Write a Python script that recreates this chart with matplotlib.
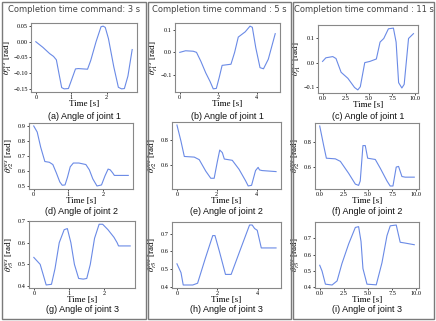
import matplotlib
matplotlib.use("Agg")
import matplotlib.pyplot as plt
from matplotlib.patches import Rectangle

# ---- data (time [s], angle [rad]) ----
col_titles = ["Completion time command: 3 s",
              "Completion time command : 5 s",
              "Completion time command : 11 s"]
captions = ["(a) Angle of joint 1", "(b) Angle of joint 1", "(c) Angle of joint 1",
            "(d) Angle of joint 2", "(e) Angle of joint 2", "(f) Angle of joint 2",
            "(g) Angle of joint 3", "(h) Angle of joint 3", "(i) Angle of joint 3"]

a_t = [0, 0.2, 0.39, 0.5, 0.58, 0.65, 0.73, 0.8, 0.92, 1.0, 1.12, 1.2, 1.46, 1.55,
       1.7, 1.84, 1.9, 1.96, 2.05, 2.2, 2.33, 2.42, 2.5, 2.6, 2.72]
a_v = [0, -0.018, -0.038, -0.047, -0.058, -0.1, -0.147, -0.151, -0.15, -0.125, -0.087,
       -0.086, -0.088, -0.06, 0.0, 0.048, 0.05, 0.046, 0.01, -0.08, -0.146, -0.151,
       -0.15, -0.11, -0.025]
d_t = [0, 0.1, 0.2, 0.32, 0.45, 0.55, 0.65, 0.75, 0.82, 0.9, 0.97, 1.05, 1.14, 1.3,
       1.5, 1.6, 1.7, 1.82, 1.95, 2.05, 2.14, 2.2, 2.27, 2.32, 2.5, 2.72]
d_v = [0.9, 0.86, 0.76, 0.665, 0.66, 0.645, 0.59, 0.53, 0.508, 0.51, 0.56, 0.63, 0.655,
       0.655, 0.645, 0.61, 0.55, 0.503, 0.51, 0.57, 0.615, 0.61, 0.59, 0.573, 0.573, 0.573]
g_t = [0, 0.18, 0.27, 0.35, 0.5, 0.6, 0.72, 0.86, 0.95, 1.05, 1.15, 1.27, 1.4, 1.5,
       1.6, 1.72, 1.85, 1.95, 2.1, 2.27, 2.36, 2.4, 2.73]
g_v = [0.532, 0.5, 0.45, 0.405, 0.408, 0.48, 0.6, 0.66, 0.665, 0.6, 0.5, 0.435, 0.432,
       0.435, 0.5, 0.62, 0.685, 0.685, 0.66, 0.625, 0.6, 0.585, 0.585]

b_t = [0, 0.3, 0.7, 0.87, 1.1, 1.35, 1.57, 1.74, 1.9, 2.05, 2.2, 2.66, 2.85, 3.04,
       3.4, 3.65, 3.77, 3.95, 4.17, 4.35, 4.6, 4.96]
b_v = [0.0, 0.007, 0.005, 0.0, -0.04, -0.09, -0.127, -0.16, -0.158, -0.11, -0.057,
       -0.052, 0.0, 0.067, 0.09, 0.115, 0.11, 0.02, -0.067, -0.072, -0.03, 0.082]
e_t = [0, 0.2, 0.37, 0.87, 1.12, 1.45, 1.7, 1.87, 2.03, 2.15, 2.28, 2.38, 2.78, 3.12,
       3.45, 3.58, 3.75, 3.95, 4.08, 4.15, 4.28, 4.98]
e_v = [0.915, 0.79, 0.67, 0.665, 0.645, 0.555, 0.5, 0.5, 0.63, 0.72, 0.7, 0.65, 0.64,
       0.57, 0.48, 0.44, 0.445, 0.56, 0.585, 0.565, 0.56, 0.552]
h_t = [0, 0.2, 0.31, 0.78, 1.02, 1.4, 1.77, 1.88, 2.1, 2.4, 2.68, 3.1, 3.59, 3.72,
       3.84, 3.97, 4.17, 4.9]
h_v = [0.53, 0.48, 0.41, 0.41, 0.42, 0.56, 0.69, 0.69, 0.6, 0.47, 0.47, 0.6, 0.75,
       0.75, 0.73, 0.72, 0.62, 0.62]

c_t = [0, 0.36, 1.1, 1.45, 2.0, 2.73, 3.45, 3.8, 4.07, 4.55, 5.1, 5.8, 6.2, 6.6, 7.1,
       7.64, 7.93, 8.2, 8.55, 8.8, 9.27, 9.8]
c_v = [0.005, 0.02, 0.025, 0.017, -0.04, -0.065, -0.103, -0.113, -0.1, 0.0, 0.005,
       0.015, 0.085, 0.1, 0.14, 0.143, 0.085, -0.083, -0.105, -0.09, 0.1, 0.12]
f_t = [0, 0.41, 0.69, 1.62, 2.14, 3.0, 3.69, 4.03, 4.2, 4.48, 4.72, 4.97, 5.76, 6.28,
       6.97, 7.3, 7.59, 7.93, 8.17, 8.52, 8.86, 9.8]
f_v = [0.925, 0.77, 0.67, 0.665, 0.645, 0.55, 0.465, 0.455, 0.49, 0.77, 0.77, 0.67,
       0.66, 0.59, 0.49, 0.45, 0.45, 0.6, 0.605, 0.525, 0.52, 0.52]
i_t = [0, 0.24, 0.59, 1.28, 1.8, 2.3, 3.0, 3.69, 4.03, 4.28, 4.48, 4.9, 5.86, 6.45,
       6.97, 7.31, 7.93, 8.34, 8.86, 9.8]
i_v = [0.535, 0.5, 0.42, 0.415, 0.44, 0.545, 0.665, 0.765, 0.77, 0.68, 0.515, 0.42,
       0.416, 0.55, 0.715, 0.775, 0.78, 0.675, 0.67, 0.66]

series = [(a_t, a_v), (b_t, b_v), (c_t, c_v),
          (d_t, d_v), (e_t, e_v), (f_t, f_v),
          (g_t, g_v), (h_t, h_v), (i_t, i_v)]
x_ticks = [[0, 1, 2], [0, 2, 4], [0.0, 2.5, 5.0, 7.5, 10.0]]
y_ticks = [[-0.15, -0.10, -0.05, 0.00, 0.05], [-0.1, 0.0, 0.1], [-0.1, 0.0, 0.1],
           [0.5, 0.6, 0.7, 0.8, 0.9], [0.6, 0.8], [0.6, 0.8],
           [0.4, 0.5, 0.6, 0.7], [0.4, 0.5, 0.6, 0.7], [0.4, 0.5, 0.6, 0.7]]
y_fmt = ["%.2f", "%.1f", "%.1f", "%.1f", "%.1f", "%.1f", "%.1f", "%.1f", "%.1f"]
x_fmt = ["%d", "%d", "%.1f"]

# ---- layout in pixels (left, top, right, bottom) ----
W, H = 436, 321
axes_px = [(31, 23, 137, 92), (175, 23, 280, 92), (318, 25, 418, 93),
           (29, 123, 133, 189), (172, 122, 281, 189), (315, 123, 419, 189),
           (29, 221, 135, 288), (172, 222, 281, 288), (315, 222, 419, 288)]
ylabel_off = [23, 21, 21, 19, 19, 19, 19, 19, 19]
caption_y = [117, 212, 310]
boxes_px = [(2, 146), (148, 291), (293, 434)]

plt.rcParams['font.family'] = 'serif'
plt.rcParams['font.serif'] = ['Liberation Serif', 'DejaVu Serif']
plt.rcParams['mathtext.fontset'] = 'stix'

fig = plt.figure(figsize=(W / 100, H / 100), dpi=100)

for x0, x1 in boxes_px:
    fig.add_artist(Rectangle((x0 / W, 1 - 319 / H), (x1 - x0) / W, 317 / H,
                             transform=fig.transFigure, fill=False,
                             edgecolor='#7a7a7a', linewidth=1.0))

for c, title in enumerate(col_titles):
    x0, x1 = boxes_px[c]
    fig.text((x0 + x1) / 2 / W, 1 - 10 / H, title, ha='center', va='center',
             fontsize=6, family='DejaVu Sans', color='#444444')

for k, (t, v) in enumerate(series):
    row, col = k // 3, k % 3
    l, tp, r, b = axes_px[k]
    w_px, h_px = r - l, b - tp
    ax = fig.add_axes([l / W, 1 - b / H, w_px / W, h_px / H])
    ax.plot(t, v, color='#6a8ae6', linewidth=0.8)
    ax.set_xticks(x_ticks[col])
    ax.set_xticklabels([x_fmt[col] % x for x in x_ticks[col]])
    ax.set_yticks(y_ticks[k])
    ax.set_yticklabels([(y_fmt[k] % y).replace('-', '\u2212') for y in y_ticks[k]])
    ax.tick_params(labelsize=4.5, length=1.5, width=0.5, pad=0.8)
    for s in ax.spines.values():
        s.set_color('#888888')
        s.set_linewidth(0.8)
    ax.set_xlabel('Time [s]', fontsize=6.5, va='center')
    ax.xaxis.set_label_coords(0.5, -12 / h_px)
    ax.set_ylabel(r'$\theta^{res}_{r%d}$ [rad]' % (row + 1), fontsize=6.5, va='center')
    ax.yaxis.set_label_coords(-ylabel_off[k] / w_px, 0.5)
    fig.text((l + r) / 2 / W, 1 - caption_y[row] / H, captions[k], ha='center',
             va='center', fontsize=6.5, family='Liberation Sans', color='#111111')

fig.savefig('out.png', dpi=100)
